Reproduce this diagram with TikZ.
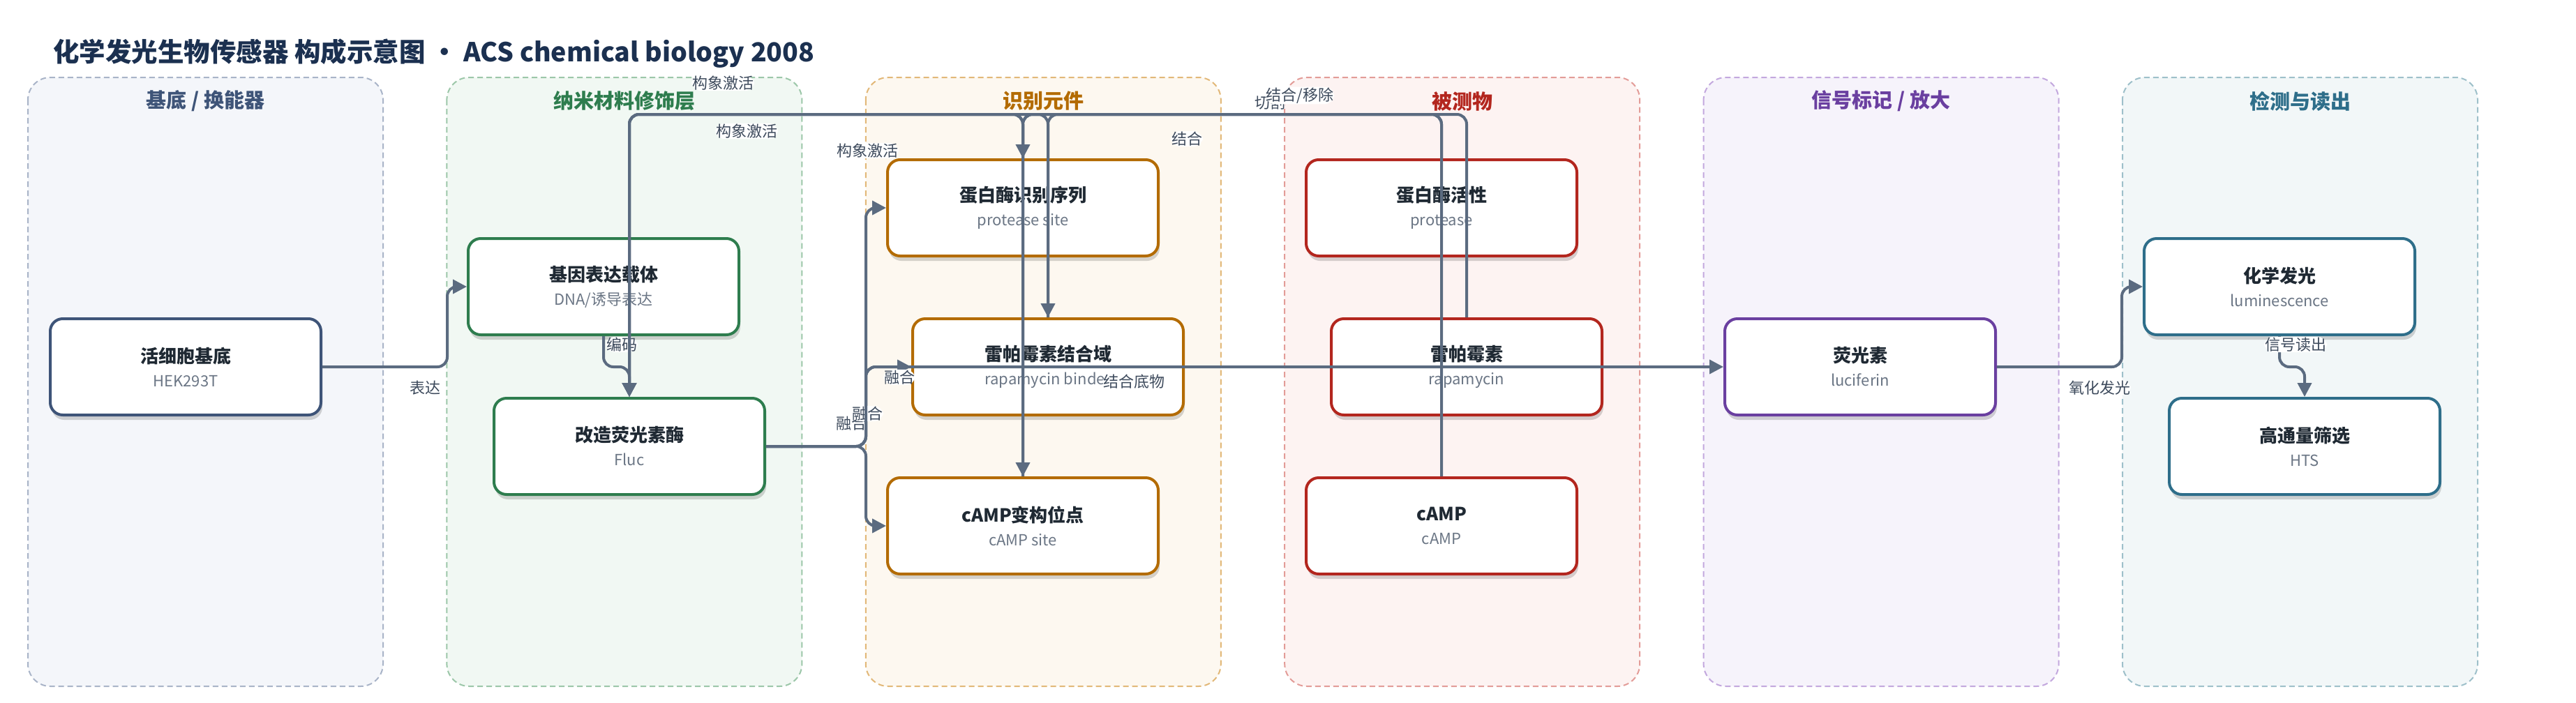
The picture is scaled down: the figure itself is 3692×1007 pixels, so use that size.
\documentclass[tikz,border=0pt]{standalone}
\usepackage{fontspec}
\setmainfont{Noto Sans CJK SC}
\usetikzlibrary{arrows.meta,shadows,positioning}

\definecolor{edge}{HTML}{5B6B80}
\definecolor{ink}{HTML}{1F2933}
\definecolor{subink}{HTML}{6B7685}
\definecolor{lblink}{HTML}{3D4A5C}
\definecolor{ttl}{HTML}{1B3050}
% lane colours: fill / dashed border / heading (= node border)
\definecolor{fillA}{HTML}{F4F6FA}\definecolor{dashA}{HTML}{A9B4C8}\definecolor{headA}{HTML}{3E5478}
\definecolor{fillB}{HTML}{F1F8F3}\definecolor{dashB}{HTML}{9CC7A9}\definecolor{headB}{HTML}{2E7D4E}
\definecolor{fillC}{HTML}{FDF8F0}\definecolor{dashC}{HTML}{E2B878}\definecolor{headC}{HTML}{B36B00}
\definecolor{fillD}{HTML}{FDF3F2}\definecolor{dashD}{HTML}{E39C98}\definecolor{headD}{HTML}{B3261E}
\definecolor{fillE}{HTML}{F6F3FB}\definecolor{dashE}{HTML}{C3A8DE}\definecolor{headE}{HTML}{6A3FA0}
\definecolor{fillF}{HTML}{F2F7F8}\definecolor{dashF}{HTML}{9EC0CA}\definecolor{headF}{HTML}{2E6E8A}

\newcommand{\duo}[2]{{\fontsize{26}{34}\selectfont\bfseries\color{ink}#1}\\#2}

\begin{document}
\begin{tikzpicture}[x=1pt,y=-1pt,
    lane/.style={line width=2pt, dash pattern=on 8pt off 5pt, rounded corners=32pt},
    lanehead/.style={font=\fontsize{29}{29}\selectfont\bfseries, inner sep=0pt},
    box/.style={fill=white, line width=4pt, rounded corners=18pt,
        minimum width=388pt, minimum height=138pt, align=center, inner sep=0pt,
        text=subink, font=\fontsize{22}{34}\selectfont,
        drop shadow={shadow xshift=2pt, shadow yshift=-7pt, opacity=0.16, fill=black}},
    flow/.style={draw=edge, line width=4pt, rounded corners=14pt,
        -{Triangle[length=20pt,width=20pt]}},
    lbl/.style={fill=white, text=lblink, font=\fontsize{22}{22}\selectfont, inner sep=1pt}]

    \useasboundingbox[fill=white] (0,0) rectangle (3692,1007);

    \node[anchor=west, inner sep=0pt, text=ttl, font=\fontsize{37.5}{38}\selectfont\bfseries]
        (title) at (76,77) {化学发光生物传感器 构成示意图 · ACS chemical biology 2008};

    % lanes
    \foreach \i/\name/\c in {0/{基底 / 换能器}/A, 1/纳米材料修饰层/B, 2/识别元件/C,
                             3/被测物/D, 4/{信号标记 / 放大}/E, 5/检测与读出/F} {
        \draw[lane, draw=dash\c, fill=fill\c] ({40+600.4*\i},111) rectangle ++(509,873);
        \node[lanehead, text=head\c] (lane\c) at ({294.5+600.4*\i},145) {\name};
    }

    % nodes
    \node[box, draw=headA] (cell)  at (266,526)  {\duo{活细胞基底}{HEK293T}};
    \node[box, draw=headB] (vec)   at (865,411)  {\duo{基因表达载体}{DNA/诱导表达}};
    \node[box, draw=headB] (fluc)  at (902,640)  {\duo{改造荧光素酶}{Fluc}};
    \node[box, draw=headC] (psite) at (1466,298) {\duo{蛋白酶识别序列}{protease site}};
    \node[box, draw=headC] (rbind) at (1502,526) {\duo{雷帕霉素结合域}{rapamycin binder}};
    \node[box, draw=headC] (csite) at (1466,754) {\duo{cAMP变构位点}{cAMP site}};
    \node[box, draw=headD] (prot)  at (2066,298) {\duo{蛋白酶活性}{protease}};
    \node[box, draw=headD] (rapa)  at (2102,526) {\duo{雷帕霉素}{rapamycin}};
    \node[box, draw=headD] (camp)  at (2066,754) {\duo{cAMP}{cAMP}};
    \node[box, draw=headE] (luc)   at (2666,526) {\duo{荧光素}{luciferin}};
    \node[box, draw=headF] (lum)   at (3267,411) {\duo{化学发光}{luminescence}};
    \node[box, draw=headF] (hts)   at (3303,640) {\duo{高通量筛选}{HTS}};

    % routing guides
    \coordinate (rail) at (0,164);
    \coordinate (gapB) at (641,0);
    \coordinate (gapC) at (1241,0);
    \coordinate (gapF) at (3041,0);

    % connectors
    \draw[flow] (cell.east) -- (cell.east -| gapB) |- (vec.west)
        node[lbl] (l1) at (609,556) {表达};
    \draw[flow] (vec.south) -- ++(0,44) -| (fluc.north)
        node[lbl] (l2) at (891,494) {编码};
    \draw[flow] (fluc.east) -- (fluc.east -| gapC) |- (luc.west)
        node[lbl] (l3) at (1625,547) {结合底物};
    \draw[flow] (prot.north) -- (prot.north |- rail) -| (psite.north)
        node[lbl] (l4) at (1820,147) {切割};
    \draw[flow] (rapa.north) -- (rapa.north |- rail) -| (rbind.north)
        node[lbl] (l5) at (1701,199) {结合};
    \draw[flow] (camp.north) -- (camp.north |- rail) -| (csite.north)
        node[lbl] (l6) at (1863,137) {结合/移除};
    \draw[flow] (psite.north) -- (psite.north |- rail) -| (fluc.north)
        node[lbl] (l7) at (1036,119) {构象激活};
    \draw[flow] (rbind.north) -- (rbind.north |- rail) -| (fluc.north)
        node[lbl] (l8) at (1070,188) {构象激活};
    \draw[flow] (csite.north) -- (csite.north |- rail) -| (fluc.north)
        node[lbl] (l9) at (1243,216) {构象激活};
    \draw[flow] (fluc.east) -- (fluc.east -| gapC) |- (csite.west)
        node[lbl] (l10) at (1220,607) {融合};
    \draw[flow] (fluc.east) -- (fluc.east -| gapC) |- (psite.west)
        node[lbl] (l11) at (1243,593) {融合};
    \draw[flow] (fluc.east) -- (fluc.east -| gapC) |- (rbind.west)
        node[lbl] (l12) at (1289,541) {融合};
    \draw[flow] (luc.east) -- (luc.east -| gapF) |- (lum.west)
        node[lbl] (l13) at (3009,556) {氧化发光};
    \draw[flow] (lum.south) -- ++(0,44) -| (hts.north)
        node[lbl] (l14) at (3290,494) {信号读出};
\end{tikzpicture}
\end{document}
